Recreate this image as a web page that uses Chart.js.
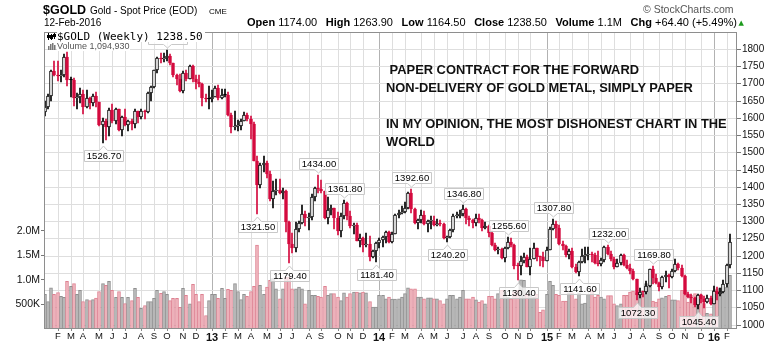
<!DOCTYPE html>
<html>
<head>
<meta charset="utf-8">
<title>$GOLD weekly</title>
<script src="https://cdn.jsdelivr.net/npm/chart.js@4.4.1/dist/chart.umd.min.js"></script>
<style>
  html, body { margin: 0; padding: 0; background: #fff; }
  #wrap { position: relative; width: 780px; height: 345px; overflow: hidden;
          font-family: "Liberation Sans", Arial, sans-serif; }
  #chart { position: absolute; left: 0; top: 0; }
  .t { position: absolute; white-space: pre; line-height: 1; color: #000; }
  #quote span b { font-weight: bold; }
</style>
</head>
<body>
<div id="wrap">
  <canvas id="chart" width="780" height="345"></canvas>

  <div class="t" style="left:43px;top:3.6px;font-size:12.5px;font-weight:bold">$GOLD</div>
  <div class="t" style="left:90px;top:5.8px;font-size:10px">Gold - Spot Price (EOD)</div>
  <div class="t" style="left:209px;top:7.6px;font-size:8px">CME</div>
  <div class="t" id="date" style="left:44px;top:18.2px;font-size:10px"></div>
  <div class="t" style="left:643px;top:4.4px;font-size:10.5px;color:#555">© StockCharts.com</div>
  <div class="t" id="quote" style="left:247px;width:490px;top:17.4px;font-size:11px;display:flex;justify-content:space-between"></div>
  <div class="t" style="left:738.5px;top:20px;font-size:7px;color:#1c9a1c;font-family:'DejaVu Sans'">▲</div>

  <div class="t" id="lg1" style="left:57px;top:31.2px;font-family:'DejaVu Sans Mono',monospace;font-size:11px;background:#fff;padding-right:2px"></div>
  <div class="t" id="lg2" style="left:57px;top:41.9px;font-size:9px;color:#555;background:#fff"></div>

  <div class="t" id="note" style="left:386px;top:60.8px;font-size:12.9px;font-weight:bold;line-height:18px;color:#111"> PAPER CONTRACT FOR THE FORWARD
NON-DELIVERY OF GOLD METAL, SIMPLY PAPER

IN MY OPINION, THE MOST DISHONEST CHART IN THE
WORLD</div>
</div>

<script>
// Weekly bars, first week ending Friday 13-Jan-2012
const firstWeekEnding = Date.UTC(2012, 0, 13);

const opens = [
  1617,1631,1664,1736,1725,1722,1724,1776,1711,1711,
  1658,1662,1668,1631,1659,1642,1663,1645,1580,1591,
  1573,1622,1590,1626,1566,1604,1579,1590,1582,1619,
  1603,1620,1616,1671,1691,1739,1773,1772,1774,1780,
  1758,1724,1712,1677,1731,1714,1751,1712,1705,1697,
  1657,1656,1656,1662,1687,1658,1667,1667,1609,1573,
  1576,1577,1592,1607,1596,1581,1476,1406,1462,1470,
  1437,1365,1387,1392,1383,1387,1298,1234,1223,1277,
  1296,1322,1310,1312,1371,1396,1395,1387,1308,1332,
  1338,1310,1272,1316,1352,1315,1287,1288,1244,1250,
  1230,1235,1197,1213,1238,1247,1254,1270,1240,1263,
  1319,1323,1326,1339,1381,1335,1294,1303,1318,1293,
  1300,1302,1290,1293,1292,1250,1253,1274,1315,1316,
  1320,1337,1310,1304,1294,1310,1305,1280,1287,1267,
  1231,1216,1218,1192,1222,1239,1231,1171,1169,1185,
  1197,1167,1191,1222,1196,1195,1186,1216,1277,1293,
  1279,1234,1228,1203,1213,1167,1152,1183,1199,1201,
  1205,1203,1178,1175,1188,1225,1204,1190,1168,1180,
  1201,1173,1163,1157,1131,1085,1095,1094,1113,1160,
  1134,1121,1108,1137,1145,1137,1156,1177,1163,1142,
  1088,1081,1076,1056,1085,1074,1065,1076,1061,1097,
  1088,1096,1117,1174
];

const highs = [
  1648,1670,1740,1764,1764,1740,1785,1792,1718,1716,
  1673,1687,1680,1680,1660,1668,1676,1646,1599,1596,
  1630,1641,1628,1627,1606,1625,1595,1598,1626,1621,
  1625,1624,1675,1692,1740,1777,1787,1787,1795.9,1785,
  1760,1728,1727,1735,1738,1754,1755,1724,1725,1700,
  1669,1694,1680,1693,1696,1683,1683,1675,1615,1620,
  1593,1597,1616,1615,1605,1587,1488,1469,1488,1476,
  1446,1416,1424,1424,1397,1392,1300,1267,1297,1300,
  1348,1330,1324,1378,1400,1434,1420,1388,1369,1346,
  1339,1326,1324,1361.8,1355,1330,1296,1295,1264,1255,
  1267,1257,1217,1240,1250,1256,1272,1273,1269,1320,
  1332,1345,1355,1384,1392.6,1338,1306,1332,1331,1305,
  1316,1315,1307,1304,1295,1256,1278,1321,1326,1332,
  1346.8,1338,1315,1306,1322,1321,1306,1298,1290,1272,
  1237,1225,1223,1226,1255.6,1251,1233,1180,1198,1207,
  1203,1221,1238,1223,1199,1211,1224,1282,1307.8,1300,
  1290,1243,1232,1219,1223,1176,1184,1220,1224,1225,
  1210,1208,1214,1194,1228,1232,1215,1196,1191,1205,
  1205,1188,1175,1162,1133,1105,1098,1126,1162,1169.8,
  1147,1125,1142,1157,1146,1160,1191,1178,1174,1143,
  1096,1089,1080,1088,1090,1083,1085,1083,1112,1110,
  1107,1128,1174.5,1263.9
];

const lows = [
  1605,1625,1650,1721,1708,1703,1720,1694,1662,1636,
  1627,1643,1612,1628,1627,1636,1632,1577,1526.7,1535,
  1547,1586,1582,1562,1548,1576,1562,1565,1570,1584,
  1597,1598,1614,1649,1686,1731,1758,1761,1764,1755,
  1718,1696,1674,1673,1706,1712,1705,1683,1691,1635,
  1645,1626,1645,1661,1652,1655,1661,1605,1555,1564,
  1562,1566,1590,1590,1539,1475,1321.5,1396,1444,1427,
  1359,1338,1375,1378,1366,1268,1179.4,1207,1211,1268,
  1292,1286,1274,1305,1359,1382,1381,1306,1292,1318,
  1277,1261,1253,1306,1305,1280,1262,1242,1225,1211,
  1224,1185,1192,1181.4,1222,1224,1236,1238,1237,1262,
  1310,1320,1325,1337,1325,1291,1277,1295,1290,1268,
  1277,1285,1285,1285,1249,1240.2,1250,1268,1308,1309,
  1316,1293,1286,1281,1286,1294,1273,1277,1255,1229,
  1213,1206,1190,1183,1219,1224,1160,1130.4,1143,1180,
  1166,1143,1190,1186,1171,1168,1185,1216,1276,1250,
  1230,1216,1196,1191,1164,1150,1141.6,1180,1178,1188,
  1183,1175,1170,1169,1182,1201,1185,1162,1166,1172,
  1170,1162,1147,1130,1072.3,1077,1080,1090,1108,1118,
  1117,1098,1102,1124,1107,1135,1154,1159,1137,1085,
  1077,1062,1052,1045.4,1062,1049,1063,1058,1060,1071,
  1083,1092,1110,1164.5
];

const closes = [
  1631,1664,1736,1725,1722,1724,1776,1711,1711,1658,
  1662,1668,1631,1659,1642,1663,1645,1580,1591,1573,
  1622,1590,1626,1566,1604,1579,1590,1582,1619,1603,
  1620,1616,1671,1691,1739,1773,1772,1774,1780,1758,
  1724,1712,1677,1731,1714,1751,1712,1705,1697,1657,
  1656,1656,1662,1687,1658,1667,1667,1609,1573,1576,
  1577,1592,1607,1596,1581,1476,1406,1462,1470,1437,
  1365,1387,1392,1383,1387,1298,1234,1223,1277,1296,
  1322,1310,1312,1371,1396,1395,1387,1308,1332,1338,
  1310,1272,1316,1352,1315,1287,1288,1244,1250,1230,
  1235,1197,1213,1238,1247,1254,1270,1240,1263,1319,
  1323,1326,1339,1381,1335,1294,1303,1318,1293,1300,
  1302,1290,1293,1292,1250,1253,1274,1315,1316,1320,
  1337,1310,1304,1294,1310,1305,1280,1287,1267,1231,
  1216,1218,1192,1222,1239,1231,1171,1169,1185,1197,
  1167,1191,1222,1196,1195,1186,1216,1277,1293,1279,
  1234,1228,1203,1213,1167,1152,1183,1199,1201,1205,
  1203,1178,1175,1188,1225,1204,1190,1168,1180,1201,
  1173,1163,1157,1131,1085,1095,1094,1113,1160,1134,
  1121,1108,1137,1145,1137,1156,1177,1163,1142,1088,
  1081,1076,1056,1085,1074,1065,1076,1061,1097,1088,
  1096,1117,1174.1,1238.5
];

// weekly volume, thousands
const volumes = [
  705,560,840,705,745,665,645,970,870,925,
  705,790,560,600,580,600,630,765,925,890,
  970,790,645,765,645,520,645,580,830,645,
  420,480,560,560,625,790,725,765,705,580,
  625,625,440,830,685,515,910,705,560,705,
  275,580,705,705,625,830,625,810,790,925,
  765,600,705,665,765,870,1710,
  890,705,855,990,1030,820,615,820,1060,1060,
  820,820,855,820,515,790,685,685,665,650,
  870,685,720,720,650,580,735,650,720,755,
  755,735,755,735,560,445,445,685,685,615,
  650,610,610,615,650,720,840,820,820,650,
  650,615,635,635,615,615,580,515,615,685,
  685,615,650,790,615,615,650,595,550,580,
  515,665,665,615,720,790,755,650,615,760,
  790,
  1000,990,705,705,650,705,340,390,705,970,
  890,705,685,570,570,735,735,615,735,515,
  530,705,790,650,685,650,615,680,680,515,
  480,515,685,685,755,775,735,705,705,925,
  890,570,550,615,635,665,685,595,595,580,
  790,790,550,685,720,685,700,520,320,310,
  790,820,840,775,855,1094.93
];

// swing highs / lows carrying a value tag
const pivots = [
  [18,'low'],[38,'high'],[66,'low'],[76,'low'],[85,'high'],[93,'high'],
  [103,'low'],[114,'high'],[125,'low'],[130,'high'],[144,'high'],[147,'low'],
  [158,'high'],[166,'low'],[175,'high'],[184,'low'],[189,'high'],[203,'low']
];

const priceTicks = [1000,1050,1100,1150,1200,1250,1300,1350,1400,1450,1500,1550,1600,1650,1700,1750,1800];
const volTicks = [500000,1000000,1500000,2000000];
const volTickLabels = ['500K','1.0M','1.5M','2.0M'];
const monthLetters = ['J','F','M','A','M','J','J','A','S','O','N','D'];
const monthNames = ['Jan','Feb','Mar','Apr','May','Jun','Jul','Aug','Sep','Oct','Nov','Dec'];

const N = closes.length;
const DAY = 86400000;
const RED = '#d40a3e', BLACK = '#000';

// month boundaries: first week whose Monday falls in a new month
const monthTicks = [], monthTickLabel = {}, yearTick = {};
for (let i = 1; i < N; i++) {
  const m0 = new Date(firstWeekEnding + (7 * (i - 1) - 4) * DAY);
  const m1 = new Date(firstWeekEnding + (7 * i - 4) * DAY);
  if (m0.getUTCMonth() !== m1.getUTCMonth()) {
    const mo = m1.getUTCMonth();
    monthTicks.push(i);
    monthTickLabel[i] = mo === 0 ? String(m1.getUTCFullYear() % 100).padStart(2, '0') : monthLetters[mo];
    yearTick[i] = mo === 0;
  }
}

const down = closes.map((c, i) => c < (i > 0 ? closes[i - 1] : opens[i]));
const hollow = closes.map((c, i) => c > opens[i]);
const col = down.map(d => d ? RED : BLACK);

// header texts
const last = N - 1;
const lastDate = new Date(firstWeekEnding + 7 * last * DAY);
document.getElementById('date').textContent =
  String(lastDate.getUTCDate()).padStart(2, '0') + '-' + monthNames[lastDate.getUTCMonth()] + '-' + lastDate.getUTCFullYear();
const chg = closes[last] - closes[last - 1];
const pct = chg / closes[last - 1] * 100;
const fmt = v => v.toFixed(2);
const quoteParts = [
  ['Open', fmt(opens[last])], ['High', fmt(highs[last])], ['Low', fmt(lows[last])],
  ['Close', fmt(closes[last])], ['Volume', (volumes[last] / 1000).toFixed(1) + 'M'],
  ['Chg', (chg >= 0 ? '+' : '') + chg.toFixed(2) + ' (' + (pct >= 0 ? '+' : '') + pct.toFixed(2) + '%)']
];
document.getElementById('quote').innerHTML =
  quoteParts.map(p => '<span><b>' + p[0] + '</b> ' + p[1] + '</span>').join('');
document.getElementById('lg1').textContent = '$GOLD (Weekly) ' + fmt(closes[last]);
document.getElementById('lg2').textContent = 'Volume ' + Math.round(volumes[last] * 1000).toLocaleString('en-US');

// frame, value tags and legend glyphs
const overlay = {
  id: 'overlay',
  afterDatasetsDraw(chart) {
    const { ctx, chartArea: a, scales } = chart;
    const xs = scales.x, ys = scales.y;
    ctx.save();
    ctx.font = '9.5px "Liberation Sans", Arial, sans-serif';
    ctx.lineWidth = 1;
    for (const [i, kind] of pivots) {
      const v = kind === 'high' ? highs[i] : lows[i];
      const x = Math.round(xs.getPixelForValue(i)) + 0.5;
      const y = ys.getPixelForValue(v);
      const text = v.toFixed(2);
      const w = Math.round(ctx.measureText(text).width) + 5;
      const h = 11;
      const bx = Math.round(x - w / 2) + 0.5;
      ctx.beginPath();
      let by;
      if (kind === 'high') {
        by = Math.round(y - 6 - h) + 0.5;
        const tip = y - 2;
        ctx.moveTo(bx, by); ctx.lineTo(bx + w, by); ctx.lineTo(bx + w, by + h);
        ctx.lineTo(x + 4, by + h); ctx.lineTo(x, tip); ctx.lineTo(x - 4, by + h);
        ctx.lineTo(bx, by + h); ctx.closePath();
      } else {
        by = Math.round(y + 7) + 0.5;
        const tip = y + 3;
        ctx.moveTo(bx, by); ctx.lineTo(x - 4, by); ctx.lineTo(x, tip); ctx.lineTo(x + 4, by);
        ctx.lineTo(bx + w, by); ctx.lineTo(bx + w, by + h); ctx.lineTo(bx, by + h); ctx.closePath();
      }
      ctx.fillStyle = 'rgba(255,255,255,0.72)'; ctx.fill();
      ctx.strokeStyle = '#c8c8c8'; ctx.stroke();
      ctx.fillStyle = '#000'; ctx.textAlign = 'center'; ctx.textBaseline = 'middle';
      ctx.fillText(text, bx + w / 2, by + h / 2 + 0.5);
    }
    // plot frame
    ctx.strokeStyle = '#8e8e8e';
    ctx.strokeRect(Math.round(a.left) + 0.5, Math.round(a.top) + 0.5,
                   Math.round(a.right - a.left) - 1, Math.round(a.bottom - a.top) - 1);
    // legend glyphs: mini candles and mini volume bars
    ctx.fillStyle = '#000';
    ctx.fillRect(48, 33, 1, 7); ctx.fillRect(47, 35, 3, 3);
    ctx.fillRect(51, 34, 1, 6); ctx.fillRect(50, 35, 3, 4);
    ctx.fillRect(54, 33, 1, 6); ctx.fillRect(53, 34, 3, 3);
    ctx.fillStyle = '#777';
    ctx.fillRect(48, 46, 1.5, 4); ctx.fillRect(50, 44, 1.5, 6);
    ctx.fillRect(52, 43, 1.5, 7); ctx.fillRect(54, 45, 1.5, 5);
    ctx.restore();
  }
};

new Chart(document.getElementById('chart'), {
  type: 'bar',
  data: {
    datasets: [
      {
        label: 'Volume', yAxisID: 'yVol', order: 3, grouped: false,
        data: volumes.map((v, i) => ({ x: i, y: v * 1000 })),
        backgroundColor: down.map(d => d ? '#f0b7bf' : '#bcbcbc'),
        borderColor: down.map(d => d ? '#de8292' : '#909090'),
        borderWidth: 1, barThickness: 3
      },
      {
        label: 'Range', yAxisID: 'y', order: 2, grouped: false,
        data: highs.map((h, i) => ({ x: i, y: [lows[i], h] })),
        backgroundColor: col, borderWidth: 0, barThickness: 1
      },
      {
        label: 'Body', yAxisID: 'y', order: 1, grouped: false,
        data: opens.map((o, i) => ({ x: i, y: [Math.min(o, closes[i]), Math.max(o, closes[i])] })),
        backgroundColor: hollow.map((h, i) => h ? '#fff' : col[i]),
        borderColor: col, borderWidth: 1, borderSkipped: false,
        barThickness: 3, minBarLength: 1
      }
    ]
  },
  options: {
    responsive: false, animation: false, devicePixelRatio: 1,
    layout: { padding: { top: 32, left: 0, right: 0, bottom: 0 } },
    plugins: { legend: { display: false }, tooltip: { enabled: false } },
    scales: {
      x: {
        type: 'linear', min: -0.25, max: 215.2, offset: false, bounds: 'data',
        alignToPixels: true,
        border: { display: false },
        grid: {
          offset: false, tickLength: 2, tickColor: '#888',
          color: ctx => (ctx.tick && yearTick[ctx.tick.value]) ? '#b2b2b2' : '#dedede'
        },
        afterBuildTicks: s => { s.ticks = monthTicks.map(v => ({ value: v })); },
        afterFit: s => { s.height = 16; },
        ticks: {
          autoSkip: false, maxRotation: 0, minRotation: 0, padding: 0, color: '#111',
          callback: v => monthTickLabel[v] || '',
          font: ctx => (ctx.tick && yearTick[ctx.tick.value])
            ? { family: '"Liberation Sans", Arial, sans-serif', size: 11, weight: 'bold' }
            : { family: '"Liberation Sans", Arial, sans-serif', size: 9.5 }
        }
      },
      y: {
        type: 'linear', position: 'right', min: 987.2, max: 1849.4, bounds: 'data',
        alignToPixels: true,
        border: { display: false },
        grid: { color: '#dedede', tickLength: 4, tickColor: '#777' },
        afterBuildTicks: s => { s.ticks = priceTicks.map(v => ({ value: v })); },
        afterFit: s => { s.width = 43; },
        ticks: {
          padding: 1, color: '#111',
          font: { family: '"Liberation Sans", Arial, sans-serif', size: 10 },
          callback: v => String(v)
        }
      },
      yVol: {
        type: 'linear', position: 'left', min: 0, max: 6055000, bounds: 'data',
        border: { display: false },
        grid: { drawOnChartArea: false, tickLength: 3, tickColor: '#777' },
        afterBuildTicks: s => { s.ticks = volTicks.map(v => ({ value: v })); },
        afterFit: s => { s.width = 44; },
        ticks: {
          padding: 1, color: '#111',
          font: { family: '"Liberation Sans", Arial, sans-serif', size: 10.5 },
          callback: v => volTickLabels[volTicks.indexOf(v)]
        }
      }
    }
  },
  plugins: [overlay]
});
</script>
</body>
</html>
